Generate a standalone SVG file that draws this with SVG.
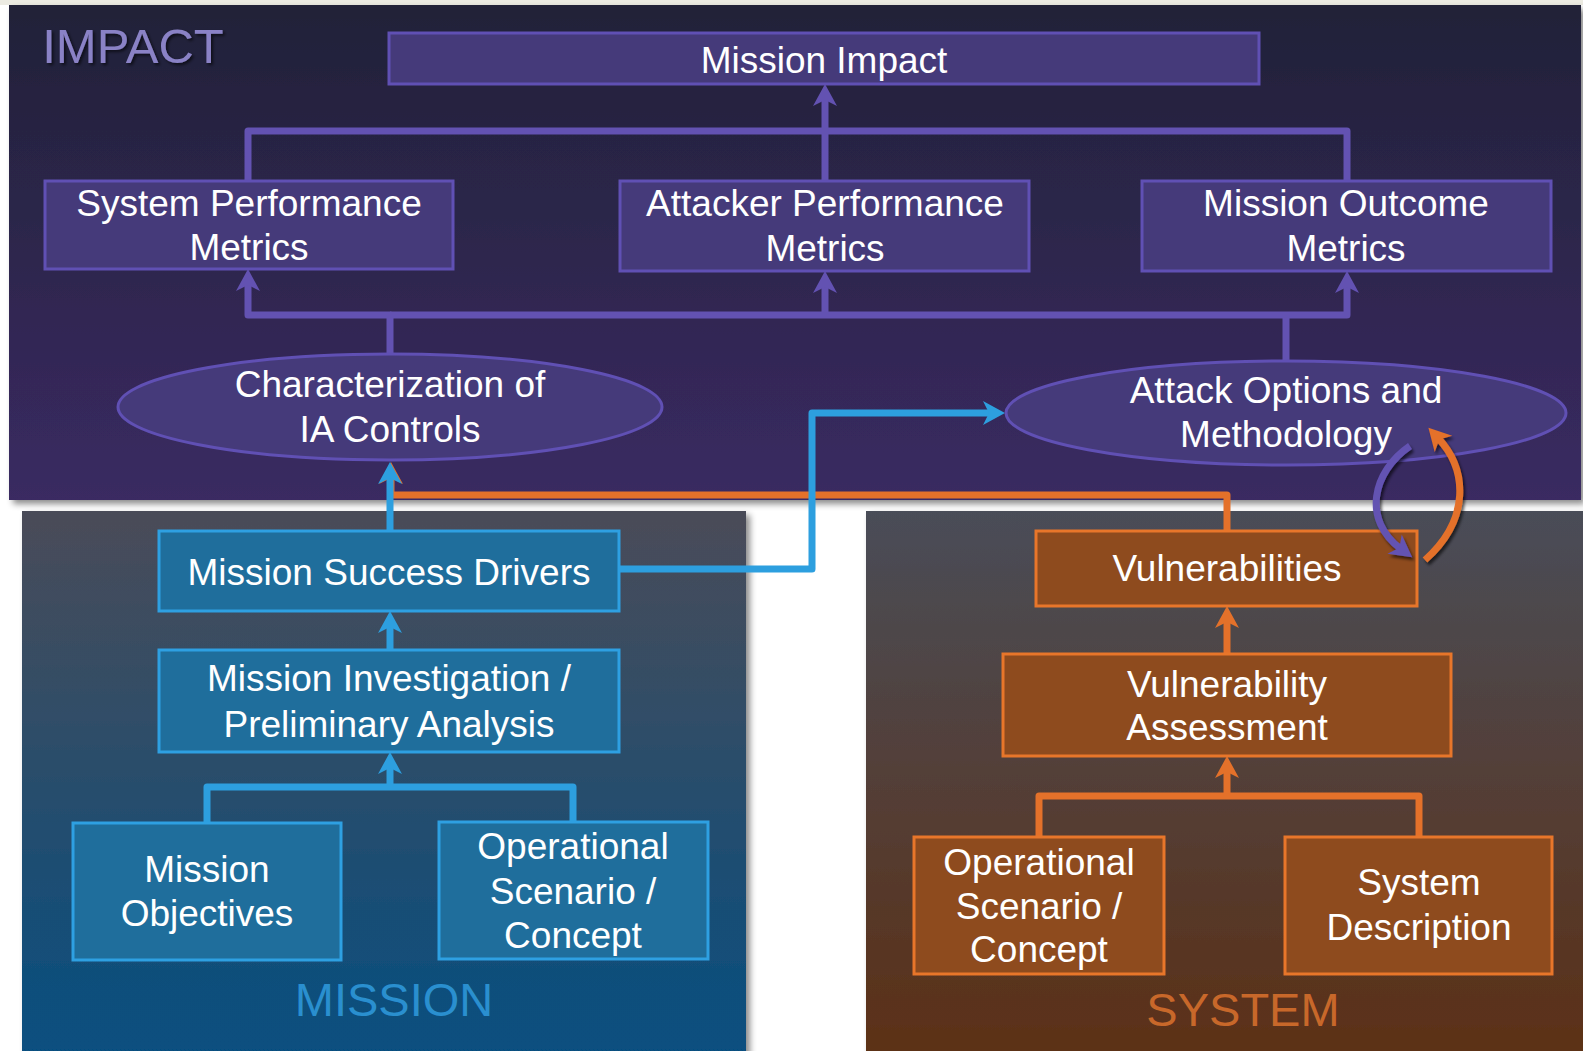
<svg xmlns="http://www.w3.org/2000/svg" width="1583" height="1051" viewBox="0 0 1583 1051">
<defs>
  <linearGradient id="gImpact" x1="0" y1="0" x2="0" y2="1">
    <stop offset="0" stop-color="#212238"/>
    <stop offset="1" stop-color="#3a2a62"/>
  </linearGradient>
  <linearGradient id="gMission" x1="0" y1="0" x2="0" y2="1">
    <stop offset="0" stop-color="#4a4c58"/>
    <stop offset="1" stop-color="#064f80"/>
  </linearGradient>
  <linearGradient id="gSystem" x1="0" y1="0" x2="0" y2="1">
    <stop offset="0" stop-color="#4a4d58"/>
    <stop offset="1" stop-color="#5c3016"/>
  </linearGradient>
  <filter id="panelShadow" x="-5%" y="-5%" width="110%" height="110%">
    <feDropShadow dx="4" dy="4" stdDeviation="3" flood-color="#000" flood-opacity="0.45"/>
  </filter>
  <filter id="curveShadow" x="-30%" y="-30%" width="160%" height="160%">
    <feDropShadow dx="2" dy="3" stdDeviation="1.5" flood-color="#000" flood-opacity="0.6"/>
  </filter>
  <filter id="labelShadow" x="-10%" y="-10%" width="120%" height="120%">
    <feDropShadow dx="2" dy="2" stdDeviation="1.5" flood-color="#000" flood-opacity="0.6"/>
  </filter>
  <marker id="aPurple" viewBox="-24 -13 26 26" refX="-14" refY="0" markerWidth="26" markerHeight="26" markerUnits="userSpaceOnUse" orient="auto">
    <path d="M0,0 L-22,-12 L-16,0 L-22,12 Z" fill="#6352b2"/>
  </marker>
  <marker id="aBlue" viewBox="-24 -13 26 26" refX="-14" refY="0" markerWidth="26" markerHeight="26" markerUnits="userSpaceOnUse" orient="auto">
    <path d="M0,0 L-22,-12 L-16,0 L-22,12 Z" fill="#2d9fdf"/>
  </marker>
  <marker id="aOrange" viewBox="-24 -13 26 26" refX="-14" refY="0" markerWidth="26" markerHeight="26" markerUnits="userSpaceOnUse" orient="auto">
    <path d="M0,0 L-22,-12 L-16,0 L-22,12 Z" fill="#e4712a"/>
  </marker>
</defs>
<style>
  .t { font-family: "Liberation Sans", Arial, sans-serif; font-size: 37px; fill: #ffffff; text-anchor: middle; }
  .pn { stroke: #6050b4; stroke-width: 3; fill: #453a7a; }
  .bn { stroke: #2ea0e2; stroke-width: 3; fill: #1f6e9c; }
  .on { stroke: #e8762a; stroke-width: 3; fill: #8e4b1e; }
  .cp { fill: none; stroke: #6352b2; stroke-width: 7; stroke-linejoin: round; }
  .cb { fill: none; stroke: #2d9fdf; stroke-width: 7; stroke-linejoin: round; }
  .co { fill: none; stroke: #e4712a; stroke-width: 7; stroke-linejoin: round; }
  .lbl { font-family: "Liberation Sans", Arial, sans-serif; font-size: 47px; text-anchor: middle; }
</style>

<rect x="0" y="0" width="1583" height="1051" fill="#ffffff"/>
<rect x="0" y="0" width="1583" height="5" fill="#ecebe2"/>

<g id="panels">
  <rect id="panel-impact" x="9" y="5" width="1572" height="495" fill="url(#gImpact)" filter="url(#panelShadow)"/>
  <rect id="panel-mission" x="22" y="511" width="724" height="545" fill="url(#gMission)" filter="url(#panelShadow)"/>
  <rect id="panel-system" x="866" y="511" width="722" height="545" fill="url(#gSystem)" filter="url(#panelShadow)"/>
  <text class="lbl" x="133" y="63" fill="#8a82c6" filter="url(#labelShadow)" style="font-size:49px">IMPACT</text>
  <text class="lbl" x="394" y="1016" fill="#2a8fcf">MISSION</text>
  <text class="lbl" x="1243" y="1026" fill="#c8682a">SYSTEM</text>
</g>

<g id="connectors">
  <path class="cp" d="M248,181 L248,131 L1347,131 L1347,181"/>
  <path class="cp" d="M825,181 L825,98" marker-end="url(#aPurple)"/>
  <path class="cp" d="M390,354 L390,315 L248,315 L248,283" marker-end="url(#aPurple)"/>
  <path class="cp" d="M390,315 L1347,315 L1347,285" marker-end="url(#aPurple)"/>
  <path class="cp" d="M1286,360 L1286,315"/>
  <path class="cp" d="M825,315 L825,285" marker-end="url(#aPurple)"/>
  <path class="co" d="M1227,531 L1227,495 L391,495 L391,476" marker-end="url(#aOrange)"/>
  <path class="cb" d="M390,531 L390,476" marker-end="url(#aBlue)"/>
  <path class="cb" d="M619,569 L812,569 L812,413 L991,413" marker-end="url(#aBlue)"/>
  <path class="cb" d="M390,650 L390,625" marker-end="url(#aBlue)"/>
  <path class="cb" d="M207,823 L207,787 L573,787 L573,822"/>
  <path class="cb" d="M390,787 L390,766" marker-end="url(#aBlue)"/>
  <path class="co" d="M1227,654 L1227,620" marker-end="url(#aOrange)"/>
  <path class="co" d="M1039,837 L1039,796 L1419,796 L1419,837"/>
  <path class="co" d="M1227,796 L1227,770" marker-end="url(#aOrange)"/>
</g>

<g id="node-mission-impact">
  <rect class="pn" x="389" y="33" width="870" height="51"/>
  <text class="t" x="824" y="73">Mission Impact</text>
</g>
<g id="node-system-performance">
  <rect class="pn" x="45" y="181" width="408" height="88"/>
  <text class="t" x="249" y="216">System Performance</text>
  <text class="t" x="249" y="260">Metrics</text>
</g>
<g id="node-attacker-performance">
  <rect class="pn" x="620" y="181" width="409" height="90"/>
  <text class="t" x="825" y="216">Attacker Performance</text>
  <text class="t" x="825" y="261">Metrics</text>
</g>
<g id="node-mission-outcome">
  <rect class="pn" x="1142" y="181" width="409" height="90"/>
  <text class="t" x="1346" y="216">Mission Outcome</text>
  <text class="t" x="1346" y="261">Metrics</text>
</g>
<g id="node-ia-controls">
  <ellipse class="pn" cx="390" cy="407" rx="272" ry="53"/>
  <text class="t" x="390" y="397">Characterization of</text>
  <text class="t" x="390" y="442">IA Controls</text>
</g>
<g id="node-attack-options">
  <ellipse class="pn" cx="1286" cy="413" rx="280" ry="52"/>
  <text class="t" x="1286" y="403">Attack Options and</text>
  <text class="t" x="1286" y="447">Methodology</text>
</g>

<g id="node-mission-success">
  <rect class="bn" x="159" y="531" width="460" height="80"/>
  <text class="t" x="389" y="585">Mission Success Drivers</text>
</g>
<g id="node-mission-investigation">
  <rect class="bn" x="159" y="650" width="460" height="102"/>
  <text class="t" x="389" y="691">Mission Investigation /</text>
  <text class="t" x="389" y="737">Preliminary Analysis</text>
</g>
<g id="node-mission-objectives">
  <rect class="bn" x="73" y="823" width="268" height="137"/>
  <text class="t" x="207" y="882">Mission</text>
  <text class="t" x="207" y="926">Objectives</text>
</g>
<g id="node-mission-opscenario">
  <rect class="bn" x="439" y="822" width="269" height="137"/>
  <text class="t" x="573" y="859">Operational</text>
  <text class="t" x="573" y="904">Scenario /</text>
  <text class="t" x="573" y="948">Concept</text>
</g>

<g id="node-vulnerabilities">
  <rect class="on" x="1036" y="531" width="381" height="75"/>
  <text class="t" x="1227" y="581">Vulnerabilities</text>
</g>
<g id="node-vulnerability-assessment">
  <rect class="on" x="1003" y="654" width="448" height="102"/>
  <text class="t" x="1227" y="697">Vulnerability</text>
  <text class="t" x="1227" y="740">Assessment</text>
</g>
<g id="node-system-opscenario">
  <rect class="on" x="914" y="837" width="250" height="137"/>
  <text class="t" x="1039" y="875">Operational</text>
  <text class="t" x="1039" y="919">Scenario /</text>
  <text class="t" x="1039" y="962">Concept</text>
</g>
<g id="node-system-description">
  <rect class="on" x="1285" y="837" width="267" height="137"/>
  <text class="t" x="1419" y="895">System</text>
  <text class="t" x="1419" y="940">Description</text>
</g>

<g id="feedback-connectors" filter="url(#curveShadow)">
  <path class="cp" d="M1410,446 C1372,472 1362,520 1401,549" marker-end="url(#aPurple)"/>
  <path class="co" d="M1425,560 C1470,520 1468,470 1438,438" marker-end="url(#aOrange)"/>
</g>
</svg>
